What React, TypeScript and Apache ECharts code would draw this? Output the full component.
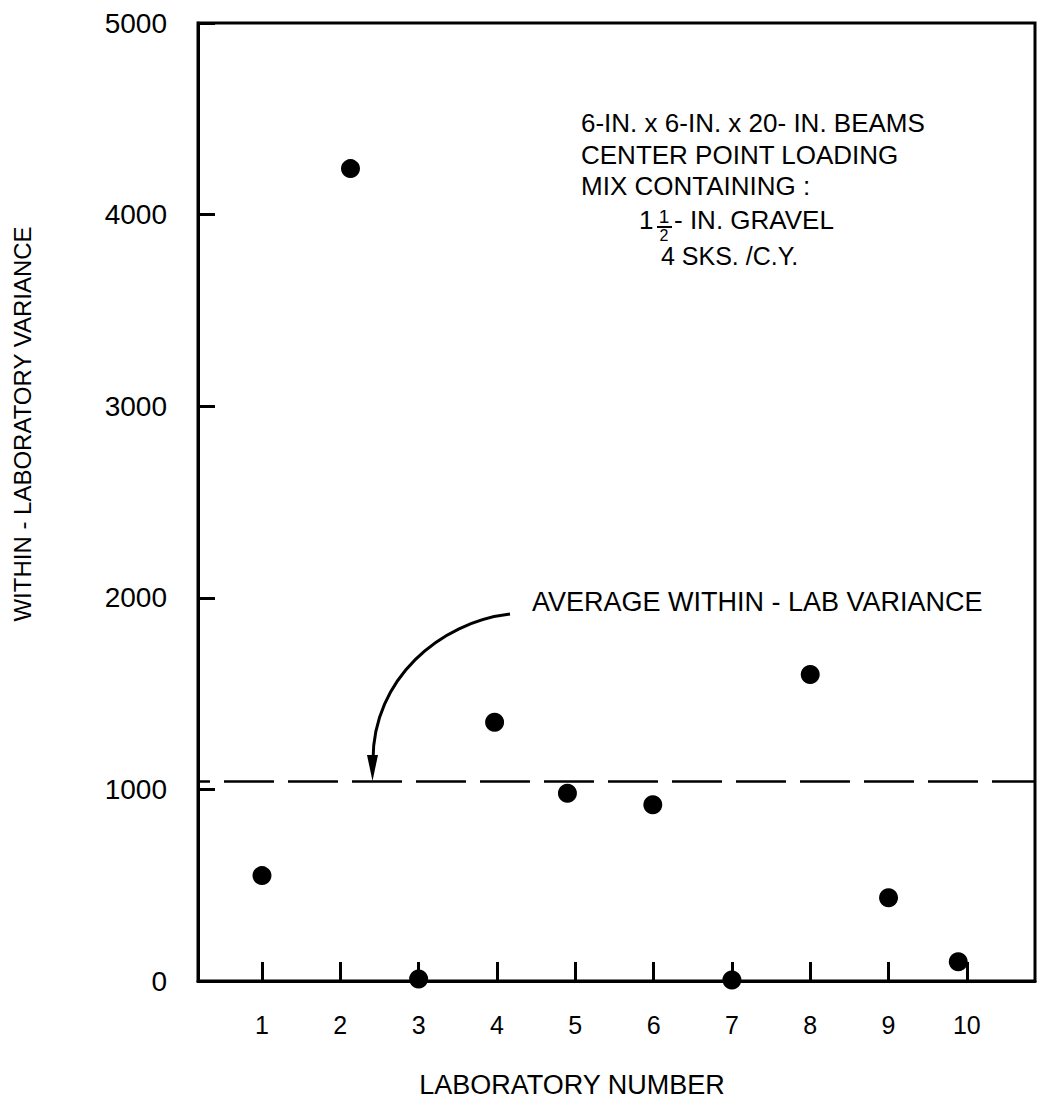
import React, { useEffect, useRef } from "react";
import * as echarts from "echarts";

const labNumbers = [1, 2, 3, 4, 5, 6, 7, 8, 9, 10];
const pointX = [1.0, 2.13, 3.0, 3.97, 4.9, 5.99, 7.0, 8.0, 9.0, 9.89];
const variance = [550, 4240, 10, 1350, 980, 920, 5, 1600, 435, 100];
const averageVariance = 1045;
const yTicks = [0, 1000, 2000, 3000, 4000, 5000];

const annotationLines = [
  "6-IN. x 6-IN. x 20- IN. BEAMS",
  "CENTER POINT LOADING",
  "MIX CONTAINING :",
];

const FONT = "'Liberation Sans', Arial, Helvetica, sans-serif";

function txt(text: string, x: number, y: number, size: number, align = "left", extra: any = {}) {
  return {
    type: "text",
    x,
    y,
    silent: true,
    ...extra,
    style: {
      text,
      fill: "#000",
      fontSize: size,
      fontFamily: FONT,
      align,
      verticalAlign: "middle",
      textAlign: align,
      textVerticalAlign: "middle",
    },
  };
}

export default function App() {
  const ref = useRef<HTMLDivElement>(null);
  useEffect(() => {
    if (!ref.current) return;
    const chart = echarts.init(ref.current, null, { renderer: "svg" });
    const data = pointX.map((x, i) => [x, variance[i]]);
    const graphics: any[] = [];
    annotationLines.forEach((t, i) => graphics.push(txt(t, 581, 123 + i * 31.5, 26)));
    graphics.push(txt("1", 639, 220, 26));
    graphics.push(txt("1", 664, 216.5, 19, "center"));
    graphics.push({
      type: "line",
      silent: true,
      shape: { x1: 657, y1: 227, x2: 672, y2: 227 },
      style: { stroke: "#000", lineWidth: 2 },
    });
    graphics.push(txt("2", 664, 235, 16, "center"));
    graphics.push(txt("- IN. GRAVEL", 674, 220, 26));
    graphics.push(txt("4 SKS. /C.Y.", 661, 256, 25));
    graphics.push(txt("AVERAGE WITHIN - LAB VARIANCE", 532, 602, 27));
    graphics.push(txt("LABORATORY NUMBER", 572, 1085, 27, "center"));
    graphics.push(txt("WITHIN - LABORATORY VARIANCE", 22, 424, 24, "center", { rotation: Math.PI / 2 }));
    graphics.push({
      type: "bezierCurve",
      silent: true,
      shape: { x1: 510, y1: 614, cpx1: 440, cpy1: 622, cpx2: 373, cpy2: 679, x2: 373, y2: 760 },
      style: { stroke: "#000", lineWidth: 3, fill: "none" },
    });
    graphics.push({
      type: "polygon",
      silent: true,
      shape: { points: [[367, 755], [378, 755], [372.5, 781]] },
      style: { fill: "#000" },
    });

    chart.setOption({
      animation: false,
      backgroundColor: "#fff",
      grid: {
        left: 198,
        top: 23,
        width: 837,
        height: 958,
        show: true,
        borderColor: "#000",
        borderWidth: 3,
        containLabel: false,
      },
      xAxis: {
        type: "value",
        min: 0.183,
        max: 10.87,
        splitLine: { show: false },
        axisLine: { show: true, lineStyle: { color: "#000", width: 3 } },
        axisTick: {
          show: true,
          inside: true,
          length: 19,
          customValues: labNumbers,
          lineStyle: { color: "#000", width: 3 },
        },
        axisLabel: {
          customValues: labNumbers,
          margin: 31,
          fontSize: 25,
          color: "#000",
          fontFamily: FONT,
          formatter: (v: number) => String(v),
        },
      },
      yAxis: {
        type: "value",
        min: 0,
        max: 5000,
        interval: 1000,
        splitLine: { show: false },
        axisLine: { show: true, lineStyle: { color: "#000", width: 3 } },
        axisTick: {
          show: true,
          inside: true,
          length: 17,
          customValues: yTicks,
          lineStyle: { color: "#000", width: 3 },
        },
        axisLabel: {
          margin: 31,
          fontSize: 28,
          color: "#000",
          fontFamily: FONT,
          formatter: (v: number) => String(v),
        },
      },
      series: [
        {
          type: "scatter",
          data,
          symbol: "circle",
          symbolSize: 19,
          itemStyle: { color: "#000", opacity: 1 },
          markLine: {
            silent: true,
            symbol: ["none", "none"],
            label: { show: false },
            lineStyle: { color: "#000", width: 2.5, type: [50, 14], dashOffset: 38, opacity: 1 },
            data: [{ yAxis: averageVariance }],
          },
        },
      ],
      graphic: graphics,
    });
    return () => chart.dispose();
  }, []);
  return (
    <div
      ref={ref}
      style={{ position: "fixed", left: 0, top: 0, width: "1038px", height: "1104px", background: "#fff" }}
    />
  );
}
